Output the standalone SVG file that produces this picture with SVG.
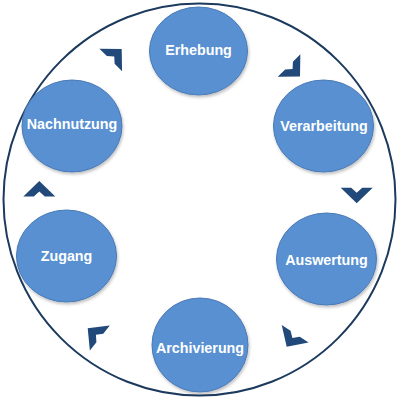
<svg xmlns="http://www.w3.org/2000/svg" width="400" height="400" viewBox="0 0 400 400">
<defs>
<style>
.node{fill:#5890d2;stroke:#4a7ab5;stroke-width:1;filter:url(#sh)}
.lbl{font-family:"Liberation Sans",Arial,sans-serif;font-weight:bold;font-size:14.3px;fill:#ffffff;text-anchor:middle;dominant-baseline:central}
.chev{fill:#21497a}
</style>
<filter id="sh" x="-20%" y="-20%" width="140%" height="140%">
<feDropShadow dx="1" dy="2" stdDeviation="1.5" flood-color="#000" flood-opacity="0.25"/>
</filter>
<path id="chev" d="M0 0 L16 15.5 L5.5 15.5 L0 10.5 L-5.5 15.5 L-16 15.5 Z"/>
</defs>
<rect width="400" height="400" fill="#ffffff"/>
<circle cx="199.5" cy="199.5" r="196" fill="none" stroke="#1c3a5e" stroke-width="2"/>
<g id="connectors">
<use href="#chev" class="chev" transform="translate(121.7,49) rotate(45)"/>
<use href="#chev" class="chev" transform="translate(300,76.5) rotate(135)"/>
<use href="#chev" class="chev" transform="translate(356.7,203.3) rotate(180)"/>
<use href="#chev" class="chev" transform="translate(286.7,346.7) rotate(213)"/>
<use href="#chev" class="chev" transform="translate(87.7,328.3) rotate(-51.5)"/>
<use href="#chev" class="chev" transform="translate(39.3,181) rotate(0)"/>
</g>
<g id="erhebung"><ellipse class="node" cx="198.5" cy="51" rx="49" ry="44"/><text class="lbl" x="198.5" y="50">Erhebung</text></g>
<g id="verarbeitung"><ellipse class="node" cx="323.5" cy="126" rx="50" ry="46"/><text class="lbl" x="324" y="126">Verarbeitung</text></g>
<g id="auswertung"><ellipse class="node" cx="326.5" cy="259" rx="50" ry="46"/><text class="lbl" x="326.5" y="260">Auswertung</text></g>
<g id="archivierung"><ellipse class="node" cx="200" cy="345" rx="48" ry="47"/><text class="lbl" x="200" y="348">Archivierung</text></g>
<g id="zugang"><ellipse class="node" cx="66.5" cy="256" rx="50" ry="46"/><text class="lbl" x="66.5" y="256">Zugang</text></g>
<g id="nachnutzung"><ellipse class="node" cx="72" cy="126" rx="50" ry="46"/><text class="lbl" x="72" y="124">Nachnutzung</text></g>
</svg>
